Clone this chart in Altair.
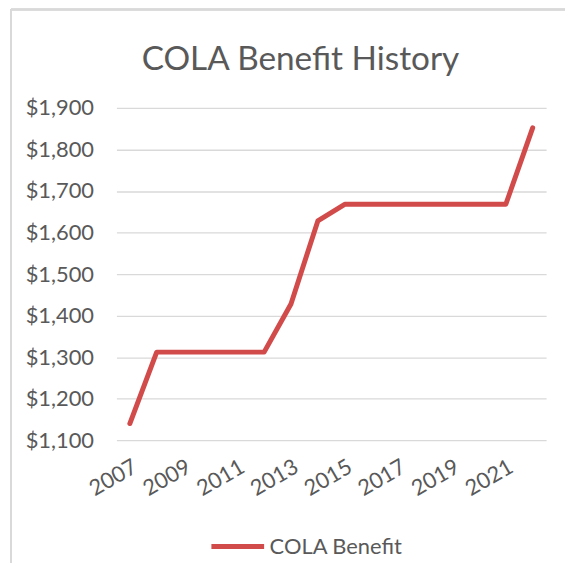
import altair as alt
import pandas as pd

years = list(range(2007, 2023))
benefit = [1140, 1312, 1312, 1312, 1312, 1312, 1428, 1628,
           1668, 1668, 1668, 1668, 1668, 1668, 1668, 1852]
series_name = "COLA Benefit"
x_tick_years = [2007, 2009, 2011, 2013, 2015, 2017, 2019, 2021]
y_ticks = [1100, 1200, 1300, 1400, 1500, 1600, 1700, 1800, 1900]

df = pd.DataFrame({"year": years, "benefit": benefit, "series": [series_name] * len(years)})

FONT = "Lato"
TXT = "#595959"
GRID = "#D9D9D9"
RED = "#D24B4B"
LBL = 22

line = alt.Chart(df).mark_line(strokeWidth=5, strokeCap="round", strokeJoin="round").encode(
    x=alt.X("year:Q", scale=alt.Scale(domain=[2006.5, 2022.5], nice=False, zero=False),
            axis=alt.Axis(values=x_tick_years, format="d", title=None, grid=False,
                          domain=False, ticks=False, labelAngle=330, labelAlign="right",
                          labelBaseline="top", labelPadding=16, labelFontSize=LBL,
                          labelFont=FONT, labelColor=TXT, labelOverlap=False)),
    y=alt.Y("benefit:Q", scale=alt.Scale(domain=[1100, 1900], nice=False, zero=False),
            axis=alt.Axis(values=y_ticks, format="$,.0f", title=None, grid=True,
                          gridColor=GRID, gridWidth=1.3, domain=False, ticks=False,
                          labelPadding=23, labelFontSize=LBL, labelFont=FONT, labelColor=TXT)),
    color=alt.Color("series:N", scale=alt.Scale(range=[RED]),
                    legend=alt.Legend(title=None, orient="none", legendX=93, legendY=412,
                                      symbolType="stroke", symbolSize=2809, symbolStrokeWidth=5,
                                      labelFontSize=LBL, labelFont=FONT, labelColor=TXT,
                                      labelOffset=3, padding=0)),
)

border_top = alt.Chart(df).mark_rule(color=GRID, strokeWidth=1.5).encode(
    x=alt.value(-106), x2=alt.value(470), y=alt.value(-99))
border_left = alt.Chart(df).mark_rule(color=GRID, strokeWidth=1.5).encode(
    x=alt.value(-106), y=alt.value(-99), y2=alt.value(480))

chart = alt.layer(border_top, border_left, line).properties(
    width=432, height=334,
    title=alt.TitleParams("COLA Benefit History", fontSize=33.5, font=FONT, fontWeight="normal",
                          color=TXT, anchor="middle", dx=-31, offset=-95, baseline="alphabetic"),
    padding={"left": 109, "top": 99, "right": 19, "bottom": 122},
    autosize=alt.AutoSizeParams(type="none"),
).configure_view(stroke=None)

chart.save("out.html", embed_options={"renderer": "svg", "actions": False})
